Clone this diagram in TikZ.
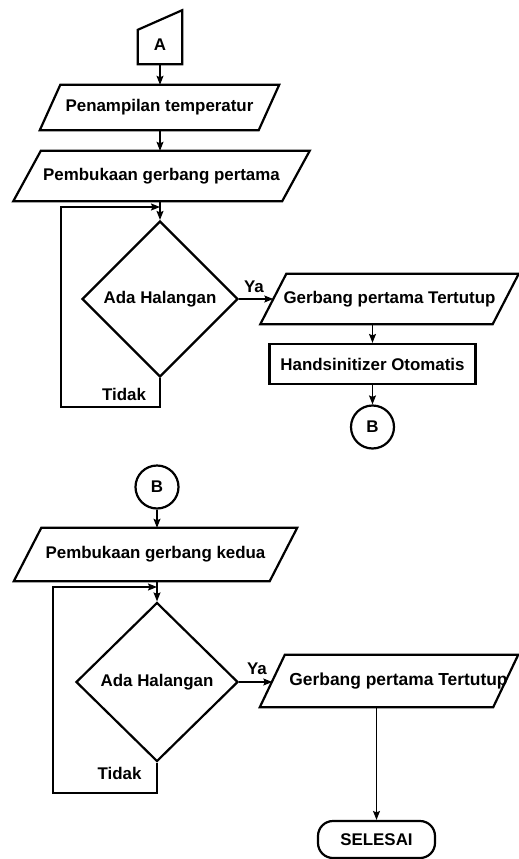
\documentclass[tikz,border=0pt]{standalone}
\usepackage{fontspec}
\setmainfont{Liberation Sans}
\usetikzlibrary{
        arrows.meta,
        positioning,
        shapes.geometric
    }
\newcommand{\flowfont}{\fontsize{16.9}{20}\bfseries\selectfont}
% jajaran genjang di sekitar node #1, setengah kemiringan #2
\newcommand{\iobox}[2]{%
    \draw[line width=2.2pt,line join=miter] ([xshift=-#2]#1.south west) -- ([xshift=-#2]#1.south east)
        -- ([xshift=#2]#1.north east) -- ([xshift=#2]#1.north west) -- cycle;}
\tikzset{>={Stealth[length=9pt,width=7pt,inset=1.5pt]}}
\tikzset{
    box/.style={draw,line width=2.2pt,font=\flowfont,inner sep=2pt},
    io/.style={rectangle,font=\flowfont,inner sep=2pt},
    decision/.style={box,diamond,aspect=1},
    connector/.style={box,circle,minimum size=43pt},
    process/.style={box,rectangle},
    term/.style={box,rectangle,rounded corners=15pt},
    line/.style={line width=1.1pt,->},
    lbl/.style={font=\flowfont,inner sep=0pt}
}

\begin{document}
\begin{tikzpicture}[x=1pt,y=-1pt]
    \useasboundingbox (0,0) rectangle (519,859);
    % bagian pertama
    \node (a)  [minimum width=44pt,minimum height=34pt,inner sep=0pt,font=\flowfont] at (160,47) {\raisebox{5pt}{A}};
    \draw[line width=2.2pt,line join=miter] (a.south west) -- (a.south east) -- ++(0,-54) -- (a.north west) -- cycle;
    \node (p1) [io,minimum width=218.5pt,minimum height=45pt] at (159.5,107.5) {Penampilan temperatur};
    \node (p2) [io,minimum width=268.5pt,minimum height=50pt] at (161.5,176) {Pembukaan gerbang pertama};
    \node (d1) [decision,minimum width=156pt,minimum height=156pt] at (160,299) {Ada Halangan};
    \node (p3) [io,minimum width=232pt,minimum height=50pt] at (389.5,299) {Gerbang pertama Tertutup};
    \node (r1) [process,minimum width=206pt,minimum height=40pt] at (372.5,364) {Handsinitizer Otomatis};
    \node (b1) [connector] at (372.5,427) {B};
    \iobox{p1}{10.25pt}
    \iobox{p2}{13.75pt}
    \iobox{p3}{13pt}
    \coordinate (m1) at (160,207);
    \coordinate (l1) at (61,407);
    \node (ya1)    [lbl] at (254,287) {Ya};
    \node (tidak1) [lbl] at (124,394) {Tidak};
    \draw[line] (a.south) -- (a.south |- p1.north);
    \draw[line] (p1.south -| a.south) -- (a.south |- p2.north);
    \draw[line] (p2.south -| d1.north) -- (d1.north);
    \draw[line] (d1.south) |- (l1) |- (m1);
    \draw[line] (d1.east) -- (d1.east -| p3.west);
    \draw[line] (r1.north |- p3.south) -- (r1.north);
    \draw[line] (r1.south) -- (b1.north);
    % bagian kedua
    \node (b2) [connector] at (157,487) {B};
    \node (p4) [io,minimum width=255.5pt,minimum height=53pt] at (155.5,554.5) {Pembukaan gerbang kedua};
    \node (d2) [decision,minimum width=162pt,minimum height=159pt] at (157,682) {Ada Halangan};
    \node (p5) [io,minimum width=233pt,minimum height=52pt] at (389,681)
                {\makebox[0pt]{\hspace*{19pt}\fontsize{17.4}{20}\selectfont Gerbang pertama Tertutup}};
    \node (s)  [term,minimum width=117pt,minimum height=37pt] at (376.5,839.5) {SELESAI};
    \iobox{p4}{13.75pt}
    \iobox{p5}{12.5pt}
    \coordinate (m2) at (157,587);
    \coordinate (l2) at (53,793);
    \node (ya2)    [lbl] at (257,669) {Ya};
    \node (tidak2) [lbl] at (119.5,773) {Tidak};
    \draw[line] (b2.south) -- (b2.south |- p4.north);
    \draw[line] (p4.south -| d2.north) -- (d2.north);
    \draw[line] (d2.south) |- (l2) |- (m2);
    \draw[line] (d2.east) -- (d2.east -| p5.west);
    \draw[line] (s.north |- p5.south) -- (s.north);
\end{tikzpicture}
\end{document}
